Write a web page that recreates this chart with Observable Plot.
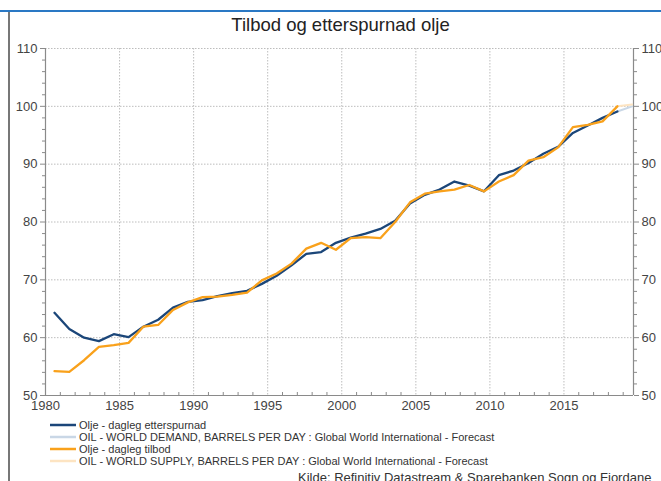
<!DOCTYPE html>
<html><head><meta charset="utf-8">
<script src="https://cdn.jsdelivr.net/npm/d3@7"></script>
<script src="https://cdn.jsdelivr.net/npm/@observablehq/plot@0.6"></script>
<style>
body{margin:0;background:#fff;font-family:"Liberation Sans",Arial,sans-serif;}
#wrap{position:relative;width:661px;height:481px;overflow:hidden;background:#fff;}
#topbar{position:absolute;left:0;top:10px;width:661px;height:2px;background:#2a78c4;}
#leftbar{position:absolute;left:8px;top:12px;width:2px;height:480px;background:#777;}
#title{position:absolute;left:0;width:681px;top:14px;text-align:center;font-size:18.5px;color:#222;}
#chart{position:absolute;left:0;top:38px;}
#legend{position:absolute;left:50px;top:419px;font-size:11px;color:#333;}
#legend .row{height:12px;line-height:12px;white-space:nowrap;display:flex;align-items:center;}
#legend svg{margin-right:3px;}
#caption{position:absolute;left:298px;top:470px;font-size:13px;color:#333;white-space:nowrap;}
</style></head><body>
<div id="wrap">
 <div id="topbar"></div>
 <div id="leftbar"></div>
 <div id="title">Tilbod og etterspurnad olje</div>
 <div id="chart"></div>
 <div id="legend"></div>
 <div id="caption">Kilde: Refinitiv Datastream &amp; Sparebanken Sogn og Fjordane</div>
</div>
<script>
const years = [1980,1981,1982,1983,1984,1985,1986,1987,1988,1989,1990,1991,1992,1993,1994,1995,1996,1997,1998,1999,2000,2001,2002,2003,2004,2005,2006,2007,2008,2009,2010,2011,2012,2013,2014,2015,2016,2017,2018];
const demand = [64.3,61.5,60.0,59.4,60.6,60.1,61.9,63.1,65.2,66.2,66.5,67.2,67.7,68.1,69.3,70.7,72.5,74.5,74.8,76.4,77.3,78.0,78.8,80.2,83.2,84.7,85.6,87.0,86.3,85.3,88.1,88.9,90.2,91.8,93.0,95.4,96.7,98.0,99.1];
const supply = [54.2,54.1,56.1,58.4,58.7,59.1,61.9,62.2,64.8,66.1,67.0,67.1,67.4,67.8,69.9,71.1,72.8,75.4,76.4,75.2,77.2,77.4,77.2,80.0,83.4,84.9,85.3,85.6,86.4,85.3,87.0,88.1,90.6,91.2,92.9,96.4,96.8,97.4,100.0];
const forecastYears = [2018, 2019];
const demandForecast = [99.1, 100.0];
const supplyForecast = [100.0, 100.3];
const yTicks = [50,60,70,80,90,100,110];
const yMinorTicks = [52,54,56,58,62,64,66,68,72,74,76,78,82,84,86,88,92,94,96,98,102,104,106,108];
const xTickYears = [1980,1985,1990,1995,2000,2005,2010,2015];
const xMinorYears = [1981,1982,1983,1984,1986,1987,1988,1989,1991,1992,1993,1994,1996,1997,1998,1999,2001,2002,2003,2004,2006,2007,2008,2009,2011,2012,2013,2014,2016,2017,2018,2019];

const stamp = y => new Date(Date.UTC(y, 7, 10)); // annual observation date
const jan = y => new Date(Date.UTC(y, 0, 1));
const toRows = (ys, vs) => ys.map((y, i) => ({date: stamp(y), value: vs[i]}));

const demandRows = toRows(years, demand);
const supplyRows = toRows(years, supply);
const demandFc = toRows(forecastYears, demandForecast);
const supplyFc = toRows(forecastYears, supplyForecast);

const xDomain = [jan(1980), new Date(Date.UTC(2019, 8, 12))];
const blue = "#1b4679", orange = "#f9a11b", lblue = "#c9d7e6", lorange = "#fde4c2";
const axisGray = "#8a8a8a";

const chart = Plot.plot({
  width: 661, height: 380,
  marginLeft: 45, marginRight: 28, marginTop: 10, marginBottom: 23,
  style: {fontFamily: "Liberation Sans, Arial, sans-serif", fontSize: "13px", color: "#444", background: "transparent"},
  x: {type: "utc", domain: xDomain},
  y: {domain: [50, 110]},
  marks: [
    Plot.gridY(yTicks, {stroke: "#bdbdbd", strokeOpacity: 1, strokeDasharray: "1.5,1.5"}),
    Plot.gridX(xTickYears.map(jan), {stroke: "#bdbdbd", strokeOpacity: 1, strokeDasharray: "1.5,1.5"}),
    Plot.ruleX([xDomain[0], xDomain[1]], {stroke: axisGray, strokeWidth: 1.2}),
    Plot.ruleY([50], {stroke: axisGray, strokeWidth: 1.2}),
    Plot.axisY(yTicks, {anchor: "left", tickSize: 5, tickPadding: 3, stroke: axisGray, label: null}),
    Plot.axisY(yMinorTicks, {anchor: "left", tickSize: 3, text: null, stroke: axisGray, label: null}),
    Plot.axisY(yTicks, {anchor: "right", tickSize: 5, tickPadding: 3, stroke: axisGray, label: null}),
    Plot.axisY(yMinorTicks, {anchor: "right", tickSize: 3, text: null, stroke: axisGray, label: null}),
    Plot.axisX(xTickYears.map(jan), {tickSize: 0, tickPadding: 5, tickFormat: d3.utcFormat("%Y"), label: null}),
    Plot.axisX(xMinorYears.map(jan), {tickSize: -3, text: null, stroke: axisGray, label: null}),
    Plot.line(demandFc, {x: "date", y: "value", stroke: lblue, strokeWidth: 2}),
    Plot.line(supplyFc, {x: "date", y: "value", stroke: lorange, strokeWidth: 2}),
    Plot.line(demandRows, {x: "date", y: "value", stroke: blue, strokeWidth: 2.3}),
    Plot.line(supplyRows, {x: "date", y: "value", stroke: orange, strokeWidth: 2.3})
  ]
});
document.getElementById("chart").appendChild(chart);

const legendItems = [
  {label: "Olje - dagleg etterspurnad", color: blue},
  {label: "OIL - WORLD DEMAND, BARRELS PER DAY : Global World International - Forecast", color: lblue},
  {label: "Olje - dagleg tilbod", color: orange},
  {label: "OIL - WORLD SUPPLY, BARRELS PER DAY : Global World International - Forecast", color: lorange}
];
const leg = document.getElementById("legend");
for (const it of legendItems) {
  const row = document.createElement("div");
  row.className = "row";
  row.innerHTML = `<svg width="26" height="4"><line x1="0" x2="26" y1="2" y2="2" stroke="${it.color}" stroke-width="2.5"/></svg><span>${it.label}</span>`;
  leg.appendChild(row);
}
</script>
</body></html>
